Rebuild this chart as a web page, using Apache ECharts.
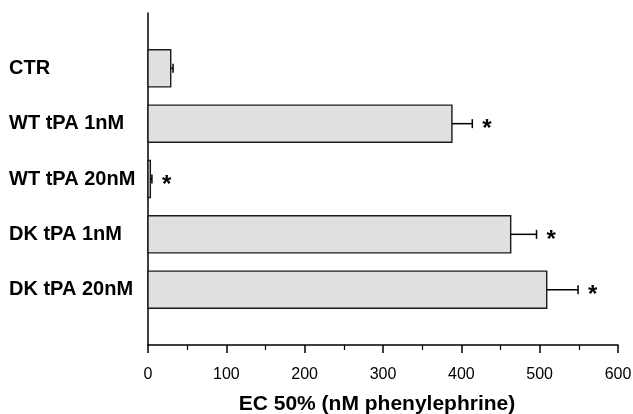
<!DOCTYPE html>
<html>
<head>
<meta charset="utf-8">
<script src="https://cdn.jsdelivr.net/npm/echarts@6/dist/echarts.min.js"></script>
<style>html,body{margin:0;padding:0;background:#fff}#c{width:633px;height:414px}</style>
</head>
<body>
<div id="c"></div>
<script>
const categories = ['CTR', 'WT tPA 1nM', 'WT tPA 20nM', 'DK tPA 1nM', 'DK tPA 20nM'];
const ec50 = [29, 388, 3, 463, 509];
const sem = [3, 26, 2, 33, 40];
const significant = [false, true, true, true, true];
const xTicks = [0, 100, 200, 300, 400, 500, 600];

const rows = categories.map((c, i) => [ec50[i], i + 1, sem[i], significant[i] ? 1 : 0]);

const chart = echarts.init(document.getElementById('c'));
chart.setOption({
  animation: false,
  grid: { left: 148, right: 15, top: 13, bottom: 69, containLabel: false, outerBoundsMode: 'none' },
  xAxis: {
    type: 'value', position: 'bottom', min: xTicks[0], max: xTicks[xTicks.length - 1], interval: 100,
    axisLine: { show: true, onZero: false, lineStyle: { color: '#000', width: 1.5 } },
    axisTick: { show: true, length: 8, lineStyle: { color: '#000', width: 1.5 } },
    minorTick: { show: true, splitNumber: 2, length: 5, lineStyle: { color: '#000', width: 1.2 } },
    splitLine: { show: false },
    axisLabel: { color: '#000', fontSize: 16, fontFamily: 'Liberation Sans', margin: 22 },
    name: 'EC 50% (nM phenylephrine)', nameLocation: 'middle', nameGap: 49,
    nameTextStyle: { color: '#000', fontSize: 21, fontWeight: 'bold', fontFamily: 'Liberation Sans', padding: [0, 12, 0, 0] }
  },
  yAxis: {
    type: 'value', min: 0, max: categories.length + 1, interval: 1, inverse: true,
    axisLine: { show: true, onZero: false, lineStyle: { color: '#000', width: 1.5 } },
    axisTick: { show: false },
    splitLine: { show: false },
    axisLabel: {
      color: '#000', fontSize: 20, fontWeight: 'bold', fontFamily: 'Liberation Sans',
      align: 'left', margin: 139,
      formatter: v => categories[v - 1] || ''
    }
  },
  series: [
    {
      type: 'custom',
      data: rows,
      encode: { x: 0, y: 1 },
      renderItem: (params, api) => {
        const v = api.value(0), p = api.value(1);
        const s = api.coord([0, p]);
        const e = api.coord([v, p]);
        const h = api.size([0, 1])[1] * 0.67;
        return {
          type: 'rect',
          shape: { x: s[0], y: s[1] - h / 2, width: e[0] - s[0], height: h },
          style: { fill: '#e0e0e0', stroke: '#1a1a1a', lineWidth: 1.4 }
        };
      }
    },
    {
      type: 'custom',
      data: rows,
      encode: { x: 0, y: 1 },
      z: 3,
      renderItem: (params, api) => {
        const v = api.value(0), p = api.value(1), err = api.value(2), sig = api.value(3);
        const e = api.coord([v, p]);
        const c = api.coord([v + err, p]);
        const children = [
          { type: 'line', shape: { x1: e[0], y1: e[1], x2: c[0], y2: c[1] }, style: { stroke: '#000', lineWidth: 1.5 } },
          { type: 'line', shape: { x1: c[0], y1: c[1] - 4.5, x2: c[0], y2: c[1] + 4.5 }, style: { stroke: '#000', lineWidth: 1.5 } }
        ];
        if (sig) {
          children.push({
            type: 'text',
            style: { text: '*', x: c[0] + 10, y: c[1] + 6, fill: '#000', font: 'bold 24px "Liberation Sans"', align: 'left', verticalAlign: 'middle' }
          });
        }
        return { type: 'group', children };
      }
    }
  ]
});
</script>
</body>
</html>
